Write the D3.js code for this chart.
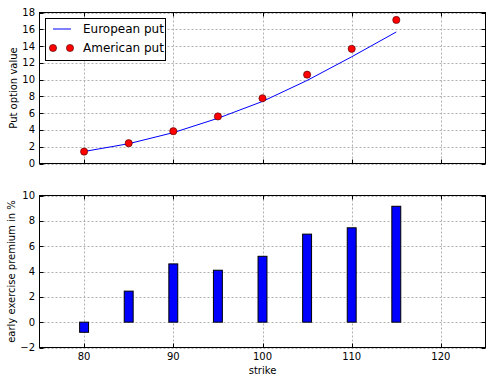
<!DOCTYPE html>
<html><head><meta charset="utf-8">
<script src="https://cdn.jsdelivr.net/npm/d3@7"></script>
<style>
body{margin:0;background:#fff;}
text{font-family:"DejaVu Sans",sans-serif;fill:#000;}
</style></head>
<body>
<svg id="c" width="492" height="383"></svg>
<script>
const strikes = [80, 85, 90, 95, 100, 105, 110, 115];
const europeanPut = [1.43, 2.36, 3.68, 5.39, 7.40, 9.90, 12.72, 15.68];
const americanPut = [1.42, 2.42, 3.85, 5.61, 7.78, 10.59, 13.67, 17.11];
const premium = [-0.8, 2.45, 4.6, 4.1, 5.2, 6.95, 7.45, 9.15];
const xTicks = [80, 90, 100, 110, 120];
const yTicksTop = [0, 2, 4, 6, 8, 10, 12, 14, 16, 18];
const yTicksBottom = [-2, 0, 2, 4, 6, 8, 10];

const svg = d3.select("#c");
const L = 39.5, R = 485.5;
const x = d3.scaleLinear().domain([75, 125]).range([L, R]);
const yT = d3.scaleLinear().domain([0, 18]).range([163.5, 12.5]);
const yB = d3.scaleLinear().domain([-2, 10]).range([347.5, 195.5]);

function frame(y, yticks, showX) {
  const top = y.range()[1], bot = y.range()[0];
  const g = svg.append("g");
  // grid
  g.selectAll(".gx").data(xTicks).join("line")
    .attr("x1", d => Math.round(x(d)) + 0.5).attr("x2", d => Math.round(x(d)) + 0.5)
    .attr("y1", top).attr("y2", bot)
    .attr("stroke", "#b0b0b0").attr("stroke-dasharray", "2,2").attr("stroke-width", 1);
  g.selectAll(".gy").data(yticks).join("line")
    .attr("x1", L).attr("x2", R)
    .attr("y1", d => Math.round(y(d)) + 0.5).attr("y2", d => Math.round(y(d)) + 0.5)
    .attr("stroke", "#b0b0b0").attr("stroke-dasharray", "2,2").attr("stroke-width", 1);
  return g;
}

function axesOver(y, yticks, showX) {
  const top = y.range()[1], bot = y.range()[0];
  const g = svg.append("g");
  const tl = 4;
  // ticks bottom/top inward
  xTicks.forEach(d => {
    const xx = Math.round(x(d)) + 0.5;
    g.append("line").attr("x1", xx).attr("x2", xx).attr("y1", bot).attr("y2", bot - tl).attr("stroke", "#000");
    g.append("line").attr("x1", xx).attr("x2", xx).attr("y1", top).attr("y2", top + tl).attr("stroke", "#000");
    if (showX) g.append("text").attr("x", x(d)).attr("y", bot + 12).attr("text-anchor", "middle")
      .attr("font-size", 10).text(d);
  });
  yticks.forEach(d => {
    const yy = Math.round(y(d)) + 0.5;
    g.append("line").attr("x1", L).attr("x2", L + tl).attr("y1", yy).attr("y2", yy).attr("stroke", "#000");
    g.append("line").attr("x1", R).attr("x2", R - tl).attr("y1", yy).attr("y2", yy).attr("stroke", "#000");
    g.append("text").attr("x", L - 4.5).attr("y", y(d)).attr("dy", "0.35em").attr("text-anchor", "end")
      .attr("font-size", 10).text(d < 0 ? "\u2212" + Math.abs(d) : d);
  });
  g.append("rect").attr("x", L).attr("y", top).attr("width", R - L).attr("height", bot - top)
    .attr("fill", "none").attr("stroke", "#000").attr("stroke-width", 1);
}

// top chart
frame(yT, yTicksTop);
const data = strikes.map((s, i) => ({s, e: europeanPut[i], a: americanPut[i], p: premium[i]}));
svg.append("path").datum(data)
  .attr("d", d3.line().x(d => x(d.s)).y(d => yT(d.e)))
  .attr("fill", "none").attr("stroke", "#0000ff").attr("stroke-width", 1);
svg.selectAll(".dot").data(data).join("circle")
  .attr("cx", d => x(d.s)).attr("cy", d => yT(d.a)).attr("r", 3.6)
  .attr("fill", "#ff0000").attr("stroke", "#400000").attr("stroke-width", 0.6);
axesOver(yT, yTicksTop, false);

// legend
const lg = svg.append("g");
lg.append("rect").attr("x", 45.5).attr("y", 18.5).attr("width", 120).attr("height", 42)
  .attr("fill", "#fff").attr("stroke", "#000").attr("stroke-width", 1);
lg.append("line").attr("x1", 53).attr("x2", 71).attr("y1", 29).attr("y2", 29)
  .attr("stroke", "#0000ff").attr("stroke-width", 1);
lg.append("text").attr("x", 83).attr("y", 29).attr("dy", "0.35em").attr("font-size", 12).text("European put");
[53, 70].forEach(cx => lg.append("circle").attr("cx", cx).attr("cy", 48).attr("r", 3.6)
  .attr("fill", "#ff0000").attr("stroke", "#400000").attr("stroke-width", 0.6));
lg.append("text").attr("x", 83).attr("y", 48).attr("dy", "0.35em").attr("font-size", 12).text("American put");

svg.append("text").attr("transform", `translate(16.5,${(12.5 + 163.5) / 2}) rotate(-90)`)
  .attr("text-anchor", "middle").attr("font-size", 10).text("Put option value");

// bottom chart
frame(yB, yTicksBottom);
const bw = 1;
svg.selectAll(".bar").data(data).join("rect")
  .attr("x", d => x(d.s - bw / 2)).attr("width", d => x(d.s + bw / 2) - x(d.s - bw / 2))
  .attr("y", d => yB(Math.max(0, d.p))).attr("height", d => Math.abs(yB(d.p) - yB(0)))
  .attr("fill", "#0000ff").attr("stroke", "#000").attr("stroke-width", 1);
axesOver(yB, yTicksBottom, true);

svg.append("text").attr("transform", `translate(15,${(195.5 + 347.5) / 2}) rotate(-90)`)
  .attr("text-anchor", "middle").attr("font-size", 10).text("early exercise premium in %");
svg.append("text").attr("x", x(100)).attr("y", 374).attr("text-anchor", "middle")
  .attr("font-size", 10).text("strike");
</script>
</body></html>
